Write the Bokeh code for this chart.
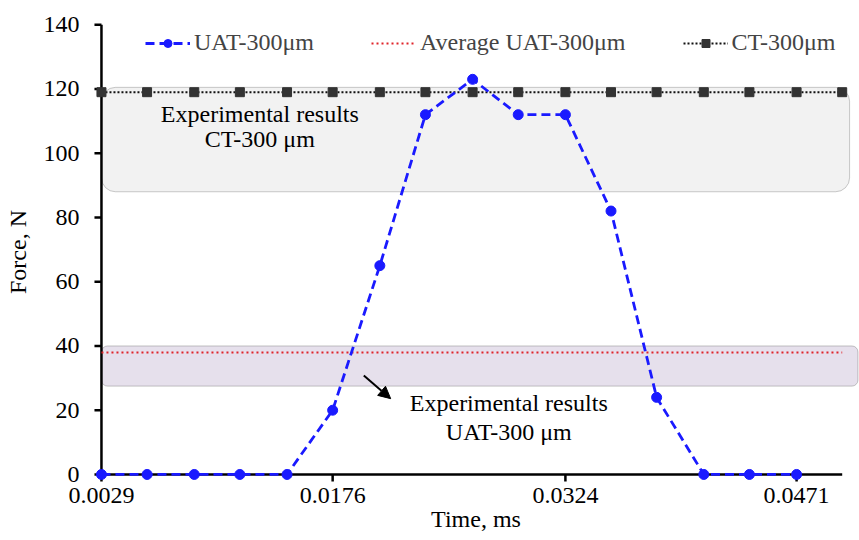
from bokeh.plotting import figure
from bokeh.models import (Range1d, FixedTicker, Legend, LegendItem, BoxAnnotation,
                          Label, Arrow, NormalHead)
from bokeh.embed import file_html
from bokeh.resources import INLINE

# ---------------- data ----------------
times = [0.0029, 0.0058, 0.0088, 0.0117, 0.0147, 0.0176, 0.0206, 0.0235, 0.0265,
         0.0294, 0.0324, 0.0353, 0.0382, 0.0412, 0.0441, 0.0471, 0.0500]
uat_force = [0, 0, 0, 0, 0, 20, 65, 112, 123, 112, 112, 82, 24, 0, 0, 0]
ct_force = [119, 119, 119, 119, 119, 119, 119, 119, 119, 119, 119, 119, 119, 119, 119, 119, 119]
avg_uat_force = [38, 38]
avg_times = [0.0029, 0.0500]
x_tick_values = [0.0029, 0.0176, 0.0324, 0.0471]
x_tick_labels = ["0.0029", "0.0176", "0.0324", "0.0471"]
y_tick_values = [0, 20, 40, 60, 80, 100, 120, 140]
ct_band = [88, 120.5]
uat_band = [27.5, 40]

FONT = "Liberation Serif"
X0 = times[0]
X_END = times[-1]
TICK_DX = 0.000445   # ~7 px
TICK_DY = 2.18       # ~7 px

p = figure(width=859, height=540,
           x_range=Range1d(0.00233, 0.0511), y_range=Range1d(-2.5, 141),
           output_backend="svg", toolbar_location=None,
           min_border_left=92, min_border_right=0, min_border_top=21, min_border_bottom=58)
p.outline_line_color = None
p.xgrid.visible = False
p.ygrid.visible = False
p.background_fill_color = "white"

# bands
gray_box = BoxAnnotation(left=X0, right=0.05047, bottom=ct_band[0], top=ct_band[1],
                         fill_color="#f2f2f2", fill_alpha=1, line_color="#555555",
                         line_width=1, border_radius=14, level="underlay")
purple_box = BoxAnnotation(left=X0, right=0.0510, bottom=uat_band[0], top=uat_band[1],
                           fill_color="#e6e0ec", fill_alpha=1, line_color="#444444",
                           line_width=1, border_radius=6, level="underlay")
p.add_layout(gray_box)
p.add_layout(purple_box)

# hand-drawn axis lines and tick marks (so markers on the axes are not clipped)
p.segment(x0=[X0, X0], y0=[0, 0], x1=[X_END, X0], y1=[0, y_tick_values[-1]],
          line_color="black", line_width=2.5)
p.segment(x0=x_tick_values, y0=[0] * len(x_tick_values),
          x1=x_tick_values, y1=[-TICK_DY] * len(x_tick_values),
          line_color="black", line_width=2.5)
p.segment(x0=[X0] * len(y_tick_values), y0=y_tick_values,
          x1=[X0 - TICK_DX] * len(y_tick_values), y1=y_tick_values,
          line_color="black", line_width=2.5)

# series
avg_line = p.line(avg_times, avg_uat_force, line_color="#e0242a", line_width=2, line_dash="2 3")
ct_line = p.line(times, ct_force, line_color="#111111", line_width=2, line_dash="2 2")
ct_pts = p.scatter(times, ct_force, marker="square", size=9, fill_color="#333333", line_color="#333333")
uat_line = p.line(times[:len(uat_force)], uat_force, line_color="#1a1aff", line_width=2.8, line_dash="9 5")
uat_pts = p.scatter(times[:len(uat_force)], uat_force, marker="circle", size=10,
                    fill_color="#1a1aff", line_color="#1a1aff")

# axes (labels only; lines drawn above)
for ax in (p.xaxis[0], p.yaxis[0]):
    ax.axis_line_color = None
    ax.major_tick_line_color = None
    ax.major_tick_in = 0
    ax.major_tick_out = 0
    ax.minor_tick_line_color = None
    ax.major_label_text_font = FONT
    ax.major_label_text_font_size = "24px"
    ax.major_label_text_color = "black"
    ax.axis_label_text_font = FONT
    ax.axis_label_text_font_size = "24px"
    ax.axis_label_text_font_style = "normal"
    ax.axis_label_text_color = "black"

p.xaxis.ticker = FixedTicker(ticks=x_tick_values)
p.xaxis.major_label_overrides = {v: s for v, s in zip(x_tick_values, x_tick_labels)}
p.yaxis.ticker = FixedTicker(ticks=y_tick_values)
p.xaxis.axis_label = "Time, ms"
p.yaxis.axis_label = "Force, N"
p.xaxis.major_label_standoff = 5
p.xaxis.axis_label_standoff = 0
p.yaxis.major_label_standoff = 13
p.yaxis.axis_label_standoff = 10

# annotations
for txt, x, y in [("Experimental results", 0.01297, 112.3), ("CT-300 μm", 0.01297, 104.5),
                  ("Experimental results", 0.0288, 22.1), ("UAT-300 μm", 0.0288, 13.1)]:
    p.add_layout(Label(x=x, y=y, text=txt, text_align="center", text_baseline="middle",
                       text_font=FONT, text_font_size="24px", text_color="black"))

p.add_layout(Arrow(end=NormalHead(size=12, fill_color="black", line_color="black"),
                   x_start=0.01958, y_start=30.8, x_end=0.02129, y_end=23.6,
                   line_width=2, line_color="black"))

legend = Legend(items=[LegendItem(label="UAT-300μm", renderers=[uat_line, uat_pts]),
                       LegendItem(label="Average UAT-300μm", renderers=[avg_line]),
                       LegendItem(label="CT-300μm", renderers=[ct_line, ct_pts])],
                orientation="horizontal", location=(53, 426),
                padding=0, margin=0, spacing=57, glyph_width=45, glyph_height=20,
                label_standoff=4, label_height=24,
                label_text_font=FONT, label_text_font_size="24px",
                background_fill_alpha=0, border_line_color=None)
p.add_layout(legend)

open("out.html", "w").write(file_html(p, INLINE))
